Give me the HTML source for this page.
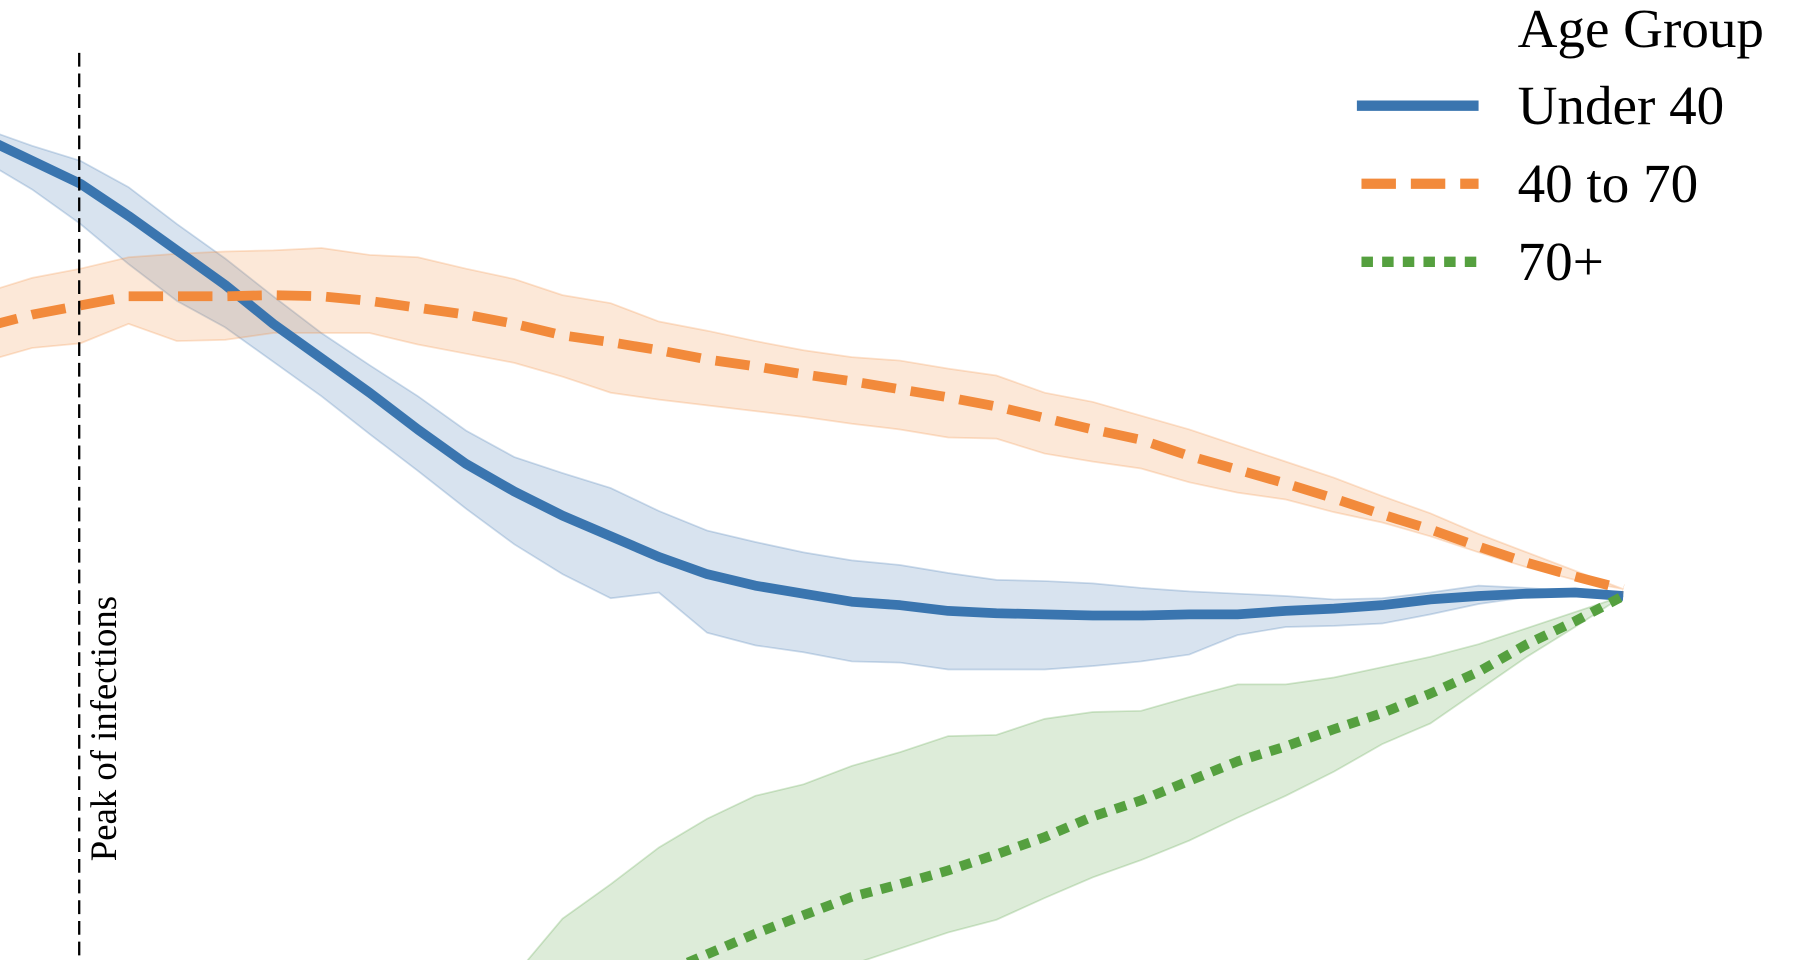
<!DOCTYPE html>
<html><head><meta charset="utf-8"><style>
html,body{margin:0;padding:0;background:#fff;overflow:hidden;width:1800px;height:960px}
svg{display:block}
text{font-family:"Liberation Serif",serif;fill:#000}
</style></head><body>
<svg id="chart" width="1800" height="960" viewBox="0 0 1568 836" preserveAspectRatio="none" xmlns="http://www.w3.org/2000/svg">
<defs><clipPath id="clip"><rect x="0" y="0" width="1568" height="836"/></clipPath></defs>
<g id="plot" clip-path="url(#clip)"></g>
<line x1="69" y1="46" x2="69" y2="836" stroke="#000" stroke-width="2" stroke-dasharray="12,6"/>
<text transform="translate(101,750) rotate(-90)" font-size="32">Peak of infections</text>
<g>
<text x="1322" y="41" font-size="48">Age Group</text>
<line x1="1182" y1="92" x2="1288" y2="92" stroke="#3a75af" stroke-width="9"/>
<text x="1322" y="108" font-size="48">Under 40</text>
<line x1="1186" y1="160" x2="1288" y2="160" stroke="#f28a3b" stroke-width="9" stroke-dasharray="30,13"/>
<text x="1322" y="176" font-size="48">40 to 70</text>
<line x1="1186" y1="228" x2="1288" y2="228" stroke="#55a03f" stroke-width="9" stroke-dasharray="10,8"/>
<text x="1322" y="244" font-size="48">70+</text>
</g>
</svg>
<script>
const days = Array.from({length:35},(_,i)=>i);
const under40 = [3.99,3.79,3.59,3.31,3.01,2.71,2.37,2.07,1.77,1.45,1.15,0.91,0.70,0.52,0.34,0.19,0.09,0.02,-0.05,-0.08,-0.13,-0.15,-0.16,-0.17,-0.17,-0.16,-0.16,-0.13,-0.11,-0.08,-0.03,0,0.02,0.03,0];
const under40Hi = [4.07,3.92,3.79,3.56,3.24,2.94,2.61,2.29,2.01,1.74,1.44,1.21,1.07,0.94,0.74,0.57,0.47,0.38,0.31,0.27,0.20,0.14,0.13,0.11,0.07,0.04,0.02,0,-0.03,-0.02,0.03,0.09,0.07,0.04,0];
const under40Lo = [3.79,3.54,3.24,2.89,2.57,2.34,2.04,1.74,1.41,1.09,0.76,0.45,0.19,-0.02,0.03,-0.32,-0.43,-0.49,-0.57,-0.58,-0.64,-0.64,-0.64,-0.61,-0.57,-0.51,-0.34,-0.27,-0.26,-0.24,-0.16,-0.07,-0.01,0,0];
const mid = [2.34,2.45,2.53,2.61,2.61,2.61,2.62,2.61,2.57,2.51,2.45,2.37,2.27,2.21,2.14,2.06,2.00,1.93,1.87,1.80,1.73,1.65,1.55,1.45,1.36,1.22,1.10,0.98,0.85,0.71,0.58,0.43,0.29,0.17,0.06];
const midHi = [2.64,2.77,2.85,2.95,2.98,3.00,3.01,3.03,2.97,2.95,2.85,2.76,2.62,2.55,2.39,2.31,2.22,2.14,2.08,2.05,1.98,1.92,1.77,1.69,1.57,1.45,1.31,1.17,1.03,0.87,0.72,0.54,0.38,0.22,0.06];
const midLo = [2.04,2.16,2.20,2.37,2.22,2.23,2.29,2.29,2.29,2.19,2.11,2.03,1.91,1.77,1.71,1.66,1.61,1.56,1.50,1.45,1.38,1.37,1.24,1.17,1.11,0.99,0.90,0.84,0.73,0.64,0.52,0.38,0.25,0.14,0.06];
const old = [null,null,null,null,null,null,null,null,null,null,null,null,null,-3.45,-3.30,-3.12,-2.94,-2.78,-2.62,-2.51,-2.39,-2.25,-2.10,-1.92,-1.78,-1.61,-1.44,-1.31,-1.16,-1.02,-0.85,-0.66,-0.42,-0.22,0];
const oldHi = [null,null,null,null,null,null,null,null,null,null,-3.81,-3.31,-2.81,-2.51,-2.19,-1.94,-1.74,-1.64,-1.48,-1.36,-1.22,-1.21,-1.07,-1.01,-1.00,-0.88,-0.77,-0.77,-0.71,-0.62,-0.53,-0.42,-0.28,-0.14,0];
const oldLo = [null,null,null,null,null,null,null,null,null,null,-4.81,-4.61,-4.41,-4.21,-4.01,-3.81,-3.61,-3.31,-3.21,-3.07,-2.93,-2.82,-2.63,-2.45,-2.30,-2.13,-1.93,-1.74,-1.53,-1.29,-1.11,-0.82,-0.53,-0.27,0];

function xScale(d){return -14 + d*42;}
function yScale(v){return 519 - v*100;}
const NS="http://www.w3.org/2000/svg";
const plot=document.getElementById('plot');

function band(lo,hi,color,name){
  const top=[],bot=[];
  days.forEach((d,i)=>{ if(hi[i]!=null&&lo[i]!=null){ top.push(xScale(d)+','+yScale(hi[i])); bot.unshift(xScale(d)+','+yScale(lo[i])); }});
  const p=document.createElementNS(NS,'polygon');
  p.setAttribute('points',top.concat(bot).join(' '));
  p.setAttribute('fill',color);p.setAttribute('fill-opacity','0.2');
  p.setAttribute('stroke',color);p.setAttribute('stroke-opacity','0.25');p.setAttribute('stroke-width','1.5');
  
  
  plot.appendChild(p);
}
function line(vals,color,dash,name){
  const pts=[];
  days.forEach((d,i)=>{ if(vals[i]!=null) pts.push(xScale(d)+','+yScale(vals[i])); });
  const p=document.createElementNS(NS,'polyline');
  p.setAttribute('points',pts.join(' '));
  p.setAttribute('fill','none');p.setAttribute('stroke',color);p.setAttribute('stroke-width','8.5');
  p.setAttribute('stroke-linejoin','round');
  if(dash)p.setAttribute('stroke-dasharray',dash);
  
  
  plot.appendChild(p);
}
band(under40Lo,under40Hi,'#3a75af','band-under-40');
band(midLo,midHi,'#f28a3b','band-40-to-70');
band(oldLo,oldHi,'#55a03f','band-70-plus');
line(under40,'#3a75af',null,'line-under-40');
line(mid,'#f28a3b','30,13','line-40-to-70');
line(old,'#55a03f','10,8','line-70-plus');
</script>
</body></html>
